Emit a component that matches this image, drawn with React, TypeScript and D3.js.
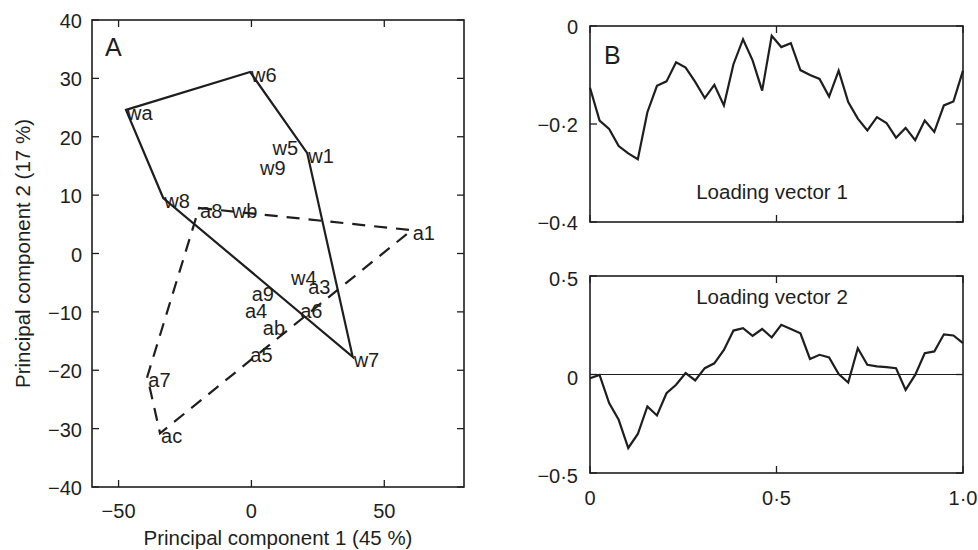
import React from "react";
import * as d3 from "d3";

// ---------- Panel A data (PCA scores) ----------
const pcLabels = ["w6", "wa", "w1", "w5", "w9", "w8", "a8", "wb", "a1", "w4", "a3", "a9", "a4", "a6", "ab", "a5", "w7", "a7", "ac"];
const pc1Scores = [-0.5, -47.2, 21.0, 7.6, 2.85, -33.2, -19.7, -7.8, 60.3, 14.5, 21.0, -0.3, -2.8, 18.0, 3.9, -0.8, 38.1, -39.2, -34.4];
const pc2Scores = [31.1, 24.6, 17.2, 18.6, 15.1, 9.5, 7.8, 7.8, 4.0, -3.6, -5.2, -6.5, -9.4, -9.4, -12.3, -16.9, -17.7, -21.1, -30.8];
const solidHull = ["wa", "w6", "w1", "w7", "w8"];
const dashedHull = ["a8", "a1", "ac", "a7"];
const pcXTicks = [-50, 0, 50];
const pcYTicks = [-40, -30, -20, -10, 0, 10, 20, 30, 40];

// ---------- Panel B data (loading vectors) ----------
const loading1 = [
  -0.126, -0.193, -0.210, -0.245, -0.260, -0.272, -0.176, -0.122, -0.113, -0.074,
  -0.085, -0.114, -0.147, -0.120, -0.162, -0.078, -0.027, -0.070, -0.132, -0.020,
  -0.043, -0.035, -0.090, -0.100, -0.108, -0.144, -0.091, -0.155, -0.189, -0.213,
  -0.186, -0.198, -0.228, -0.208, -0.233, -0.193, -0.216, -0.162, -0.154, -0.091,
];
const loading2 = [
  -0.019, -0.002, -0.145, -0.230, -0.373, -0.302, -0.162, -0.208, -0.095, -0.052,
  0.007, -0.030, 0.032, 0.057, 0.125, 0.223, 0.235, 0.196, 0.231, 0.188,
  0.252, 0.231, 0.209, 0.079, 0.100, 0.086, 0.002, -0.041, 0.133, 0.049,
  0.041, 0.037, 0.032, -0.078, -0.002, 0.108, 0.117, 0.204, 0.198, 0.159,
];
const bXTicks = [0, 0.5, 1];
const bXTickLabels = ["0", "0·5", "1·0"];
const b1YTicks = [-0.4, -0.2, 0];
const b1YTickLabels = ["\u22120·4", "\u22120·2", "0"];
const b2YTicks = [-0.5, 0, 0.5];
const b2YTickLabels = ["\u22120·5", "0", "0·5"];

const FONT = "'Liberation Sans', Arial, Helvetica, sans-serif";
const INK = "#1e1e1e";
const TICK = 7;

function fmtNum(v: number) {
  return v < 0 ? "\u2212" + Math.abs(v) : String(v);
}

export default function App() {
  // Panel A scales
  const ax = d3.scaleLinear().domain([-60, 80]).range([92, 464]);
  const ay = d3.scaleLinear().domain([-40, 40]).range([487, 20]);

  const idx = (name: string) => pcLabels.indexOf(name);
  const hullPath = (names: string[]) =>
    d3.line<string>()
      .x((n) => ax(pc1Scores[idx(n)]))
      .y((n) => ay(pc2Scores[idx(n)]))
      .curve(d3.curveLinearClosed)(names) || "";

  // Panel B scales
  const bx = d3.scaleLinear().domain([0, 1]).range([590, 963]);
  const b1y = d3.scaleLinear().domain([-0.4, 0]).range([222, 26]);
  const b2y = d3.scaleLinear().domain([-0.5, 0.5]).range([473, 276]);
  const pos = d3.scaleLinear().domain([0, loading1.length - 1]).range([0, 1]);

  const line1 = d3.line<number>().x((_, i) => bx(pos(i))).y((d) => b1y(d))(loading1) || "";
  const line2 = d3.line<number>().x((_, i) => bx(pos(i))).y((d) => b2y(d))(loading2) || "";

  const [axL, axR] = ax.range();
  const [ayB, ayT] = ay.range();
  const [bxL, bxR] = bx.range();

  const frame = (x0: number, x1: number, y0: number, y1: number) => (
    <rect x={x0} y={y1} width={x1 - x0} height={y0 - y1} fill="none" stroke={INK} strokeWidth={1.6} />
  );

  return (
    <svg width={978} height={550} style={{ position: "absolute", left: 0, top: 0, background: "#fff" }} fontFamily={FONT}>
      {/* ---------------- Panel A ---------------- */}
      <g>
        {pcXTicks.map((t) => (
          <g key={"ax" + t}>
            <line x1={ax(t)} x2={ax(t)} y1={ayB} y2={ayB - TICK} stroke={INK} strokeWidth={1.3} />
            <line x1={ax(t)} x2={ax(t)} y1={ayT} y2={ayT + TICK} stroke={INK} strokeWidth={1.3} />
            <text x={ax(t)} y={518} textAnchor="middle" fontSize={20} fill={INK}>{fmtNum(t)}</text>
          </g>
        ))}
        {pcYTicks.map((t) => (
          <g key={"ay" + t}>
            <line x1={axL} x2={axL + TICK} y1={ay(t)} y2={ay(t)} stroke={INK} strokeWidth={1.3} />
            <line x1={axR} x2={axR - TICK} y1={ay(t)} y2={ay(t)} stroke={INK} strokeWidth={1.3} />
            <text x={82} y={ay(t) + 8} textAnchor="end" fontSize={20} fill={INK}>{fmtNum(t)}</text>
          </g>
        ))}
        {frame(axL, axR, ayB, ayT)}
        <path d={hullPath(solidHull)} fill="none" stroke={INK} strokeWidth={2.2} strokeLinejoin="miter" />
        <path d={hullPath(dashedHull)} fill="none" stroke={INK} strokeWidth={2.2} strokeDasharray="13 9" />
        {pcLabels.map((n, i) => (
          <text key={n} x={ax(pc1Scores[i]) + 1} y={ay(pc2Scores[i]) + 10} fontSize={20} fill={INK}>{n}</text>
        ))}
        <text x={105} y={56} fontSize={25} fill={INK}>A</text>
        <text x={(axL + axR) / 2} y={545} textAnchor="middle" fontSize={20.5} fill={INK}>Principal component 1 (45 %)</text>
        <text transform={`translate(30, ${(ayB + ayT) / 2}) rotate(-90)`} textAnchor="middle" fontSize={20.5} fill={INK}>Principal component 2 (17 %)</text>
      </g>

      {/* ---------------- Panel B (top) ---------------- */}
      <g>
        {bXTicks.map((t) => (
          <g key={"b1x" + t}>
            <line x1={bx(t)} x2={bx(t)} y1={b1y(-0.4)} y2={b1y(-0.4) - TICK} stroke={INK} strokeWidth={1.3} />
            <line x1={bx(t)} x2={bx(t)} y1={b1y(0)} y2={b1y(0) + TICK} stroke={INK} strokeWidth={1.3} />
          </g>
        ))}
        {b1YTicks.map((t, i) => (
          <g key={"b1y" + t}>
            <line x1={bxL} x2={bxL + TICK} y1={b1y(t)} y2={b1y(t)} stroke={INK} strokeWidth={1.3} />
            <line x1={bxR} x2={bxR - TICK} y1={b1y(t)} y2={b1y(t)} stroke={INK} strokeWidth={1.3} />
            <text x={578} y={b1y(t) + 8} textAnchor="end" fontSize={20} fill={INK}>{b1YTickLabels[i]}</text>
          </g>
        ))}
        {frame(bxL, bxR, b1y(-0.4), b1y(0))}
        <path d={line1} fill="none" stroke={INK} strokeWidth={2.2} strokeLinejoin="miter" />
        <text x={604} y={64} fontSize={25} fill={INK}>B</text>
        <text x={772} y={199} textAnchor="middle" fontSize={20.5} fill={INK}>Loading vector 1</text>
      </g>

      {/* ---------------- Panel B (bottom) ---------------- */}
      <g>
        <line x1={bxL} x2={bxR} y1={b2y(0)} y2={b2y(0)} stroke={INK} strokeWidth={1.1} />
        {bXTicks.map((t, i) => (
          <g key={"b2x" + t}>
            <line x1={bx(t)} x2={bx(t)} y1={b2y(-0.5)} y2={b2y(-0.5) - TICK} stroke={INK} strokeWidth={1.3} />
            <line x1={bx(t)} x2={bx(t)} y1={b2y(0.5)} y2={b2y(0.5) + TICK} stroke={INK} strokeWidth={1.3} />
            <text x={bx(t)} y={505} textAnchor="middle" fontSize={20} fill={INK}>{bXTickLabels[i]}</text>
          </g>
        ))}
        {b2YTicks.map((t, i) => (
          <g key={"b2y" + t}>
            <line x1={bxL} x2={bxL + TICK} y1={b2y(t)} y2={b2y(t)} stroke={INK} strokeWidth={1.3} />
            <line x1={bxR} x2={bxR - TICK} y1={b2y(t)} y2={b2y(t)} stroke={INK} strokeWidth={1.3} />
            <text x={578} y={b2y(t) + 10} textAnchor="end" fontSize={20} fill={INK}>{b2YTickLabels[i]}</text>
          </g>
        ))}
        {frame(bxL, bxR, b2y(-0.5), b2y(0.5))}
        <path d={line2} fill="none" stroke={INK} strokeWidth={2.2} strokeLinejoin="miter" />
        <text x={772} y={304} textAnchor="middle" fontSize={20.5} fill={INK}>Loading vector 2</text>
      </g>
    </svg>
  );
}
